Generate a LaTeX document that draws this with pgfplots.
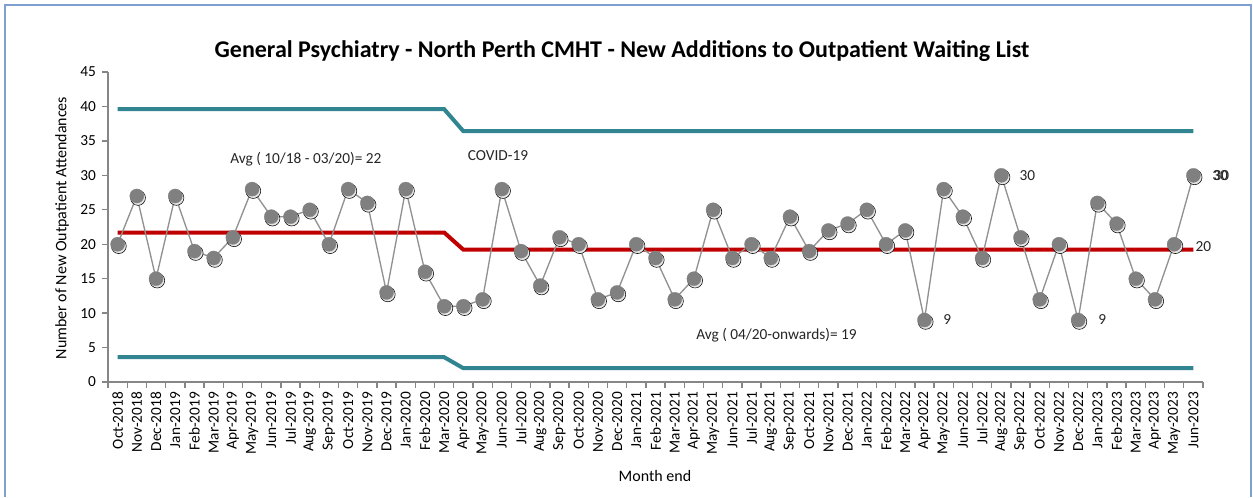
\documentclass[border=0pt]{standalone}
\usepackage{pgfplots}
\usepackage{pgfplotstable}
\pgfplotsset{compat=1.18}
\usepackage{fontspec}
\setmainfont{Carlito}
\definecolor{ucl}{RGB}{49,133,145}
\definecolor{avgred}{RGB}{192,0,0}
\definecolor{ptgrey}{RGB}{128,128,128}
\definecolor{lngrey}{RGB}{145,145,145}
\definecolor{axgrey}{RGB}{134,134,134}
\definecolor{frameblue}{RGB}{126,160,208}
\definecolor{txt}{RGB}{38,38,38}

\pgfplotstableread{
x y
0 20
1 27
2 15
3 27
4 19
5 18
6 21
7 28
8 24
9 24
10 25
11 20
12 28
13 26
14 13
15 28
16 16
17 11
18 11
19 12
20 28
21 19
22 14
23 21
24 20
25 12
26 13
27 20
28 18
29 12
30 15
31 25
32 18
33 20
34 18
35 24
36 19
37 22
38 23
39 25
40 20
41 22
42 9
43 28
44 24
45 18
46 30
47 21
48 12
49 20
50 9
51 26
52 23
53 15
54 12
55 20
56 30
}\datatable

\newcommand{\fs}{\fontsize{11.5}{13}\selectfont}

\begin{document}
\begin{tikzpicture}
\useasboundingbox (0,0) rectangle (939.75pt,372.75pt);
\fill[white] (0,0) rectangle (939.75pt,372.75pt);
\draw[frameblue, line width=1.3pt] (3.75pt,0) -- (3.75pt,369pt) -- (938.25pt,369pt) -- (938.25pt,0);
\node[font=\fontsize{18}{20}\selectfont\bfseries, text=black] at (466.5pt,334.5pt) {General Psychiatry - North Perth CMHT - New Additions to Outpatient Waiting List};
\node[font=\fontsize{12}{14}\selectfont, text=black, rotate=90] at (46.5pt,201.75pt) {Number of New Outpatient Attendances};
\node[font=\fontsize{12}{14}\selectfont, text=black] at (491.25pt,15.75pt) {Month end};
\begin{axis}[
  at={(81pt,86.25pt)}, anchor=south west,
  scale only axis, width=821.25pt, height=232.5pt,
  xmin=-0.5, xmax=56.5, ymin=0, ymax=45,
  axis x line=bottom, axis y line=left,
  axis line style={axgrey,-},
  x axis line style={line width=2pt},
  y axis line style={line width=1pt},
  clip=false,
  ytick={0,5,...,45},
  tick align=outside,
  major tick length=4.5pt,
  tick style={axgrey, line width=1pt},
  yticklabel style={font=\fs, text=black, xshift=-1pt},
  /pgf/number format/assume math mode=true,
  xtick={-0.5,0.5,...,56.5},
  xticklabels={},
  extra x ticks={0,...,56},
  extra x tick labels={Oct-2018,Nov-2018,Dec-2018,Jan-2019,Feb-2019,Mar-2019,Apr-2019,May-2019,Jun-2019,Jul-2019,Aug-2019,Sep-2019,Oct-2019,Nov-2019,Dec-2019,Jan-2020,Feb-2020,Mar-2020,Apr-2020,May-2020,Jun-2020,Jul-2020,Aug-2020,Sep-2020,Oct-2020,Nov-2020,Dec-2020,Jan-2021,Feb-2021,Mar-2021,Apr-2021,May-2021,Jun-2021,Jul-2021,Aug-2021,Sep-2021,Oct-2021,Nov-2021,Dec-2021,Jan-2022,Feb-2022,Mar-2022,Apr-2022,May-2022,Jun-2022,Jul-2022,Aug-2022,Sep-2022,Oct-2022,Nov-2022,Dec-2022,Jan-2023,Feb-2023,Mar-2023,Apr-2023,May-2023,Jun-2023},
  extra x tick style={major tick length=0pt, xticklabel style={rotate=90, anchor=east, font=\fs, text=black, xshift=-4pt}},
]
\addplot[ucl, line width=3pt] coordinates {(0,39.6) (17,39.6) (18,36.4) (56,36.4)};
\addplot[ucl, line width=3pt] coordinates {(0,3.6) (17,3.6) (18,2.0) (56,2.0)};
\addplot[avgred, line width=3pt] coordinates {(0,21.7) (17,21.7) (18,19.2) (56,19.2)};
\addplot[only marks, mark=*, mark size=5.6pt, mark options={fill=black!10, draw=none, xshift=0.9pt, yshift=-1.4pt}] table {\datatable};
\addplot[lngrey, line width=1pt, mark=*, mark size=5.3pt, mark options={fill=ptgrey, draw=ptgrey, line width=0.2pt}] table {\datatable};
\node[font=\fs, text=txt] at (axis cs:9.8,32.4) {Avg ( 10/18 - 03/20)= 22};
\node[font=\fs, text=txt] at (axis cs:19.8,32.8) {COVID-19};
\node[font=\fs, text=txt] at (axis cs:34.3,6.8) {Avg ( 04/20-onwards)= 19};
\node[font=\fs, text=txt, anchor=west, inner sep=0pt, xshift=14pt] at (axis cs:42,9) {9};
\node[font=\fs, text=txt, anchor=west, inner sep=0pt, xshift=13.5pt] at (axis cs:46,30) {30};
\node[font=\fs, text=txt, anchor=west, inner sep=0pt, xshift=15pt] at (axis cs:50,9) {9};
\node[font=\fs, text=txt, anchor=west, inner sep=0pt, xshift=14pt] at (axis cs:56,30) {30};
\node[font=\fs, text=txt, anchor=west, inner sep=0pt, xshift=15pt] at (axis cs:56,30) {30};
\node[font=\fs, text=txt, anchor=west, inner sep=0pt, xshift=1.5pt] at (axis cs:56,19.7) {20};
\end{axis}
\end{tikzpicture}
\end{document}
